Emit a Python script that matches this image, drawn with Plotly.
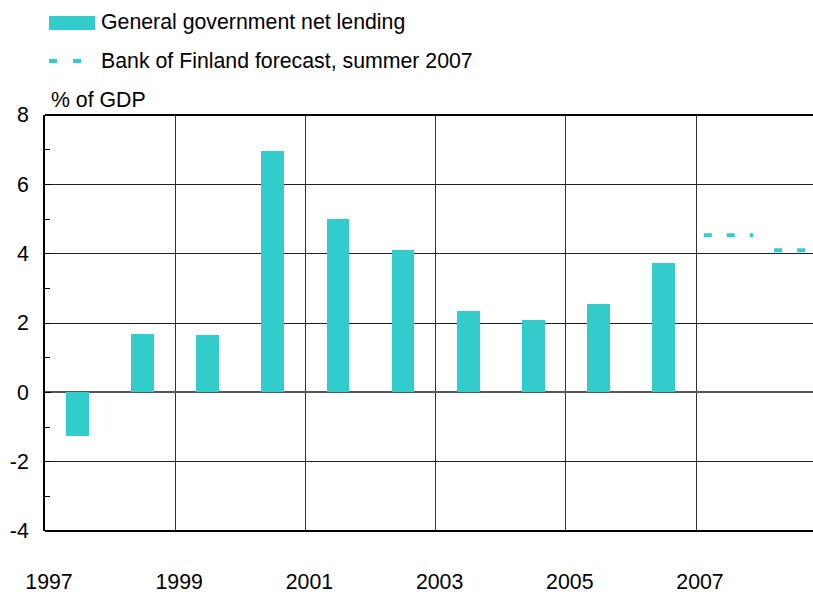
import plotly.graph_objects as go

years = [1997, 1998, 1999, 2000, 2001, 2002, 2003, 2004, 2005, 2006]
net_lending = [-1.25, 1.68, 1.64, 6.95, 5.0, 4.1, 2.36, 2.09, 2.55, 3.73]

fc_years = [2007, 2008]
fc_values = [4.53, 4.1]

tick_years = [1997, 1999, 2001, 2003, 2005, 2007]
y_ticks = [-4, -2, 0, 2, 4, 6, 8]

TEAL = "#33CCCC"
FONT = "Liberation Sans, Arial, sans-serif"
FS = 21.3

W, H = 813, 598
ml, mr, mt, mb = 45, 0, 115, 67
pw, ph = W - ml - mr, H - mt - mb

def px_x(x):
    return (x - ml) / pw

def px_y(y):
    return (H - mb - y) / ph

fig = go.Figure()
fig.add_trace(go.Bar(
    x=[y + 0.5 for y in years], y=net_lending, width=0.35,
    marker=dict(color=TEAL, line=dict(width=0)), showlegend=False,
))
# forecast segments, dash phase lined up like the original
for yr, v, start in zip(fc_years, fc_values, [0.12, 0.2]):
    fig.add_trace(go.Scatter(
        x=[yr + start, yr + 0.88], y=[v, v], mode="lines",
        line=dict(color=TEAL, width=4, dash="8px,15px"), showlegend=False,
    ))

# hand-drawn legend, top left
fig.add_shape(type="rect", xref="paper", yref="paper",
              x0=px_x(49), x1=px_x(95), y0=px_y(30), y1=px_y(16),
              fillcolor=TEAL, line=dict(width=0))
for x0 in (49, 73):
    fig.add_shape(type="line", xref="paper", yref="paper",
                  x0=px_x(x0), x1=px_x(x0 + 8), y0=px_y(61), y1=px_y(61),
                  line=dict(color=TEAL, width=4))
fig.add_annotation(xref="paper", yref="paper", x=px_x(99), y=px_y(22),
                   text="General government net lending", showarrow=False,
                   xanchor="left", yanchor="middle", font=dict(size=FS))
fig.add_annotation(xref="paper", yref="paper", x=px_x(99), y=px_y(61),
                   text="Bank of Finland forecast, summer 2007", showarrow=False,
                   xanchor="left", yanchor="middle", font=dict(size=FS))
fig.add_annotation(xref="paper", yref="paper", x=px_x(49), y=px_y(100),
                   text="% of GDP", showarrow=False,
                   xanchor="left", yanchor="middle", font=dict(size=FS))

fig.update_layout(
    width=W, height=H,
    margin=dict(l=ml, r=mr, t=mt, b=mb, pad=0),
    paper_bgcolor="white", plot_bgcolor="white",
    font=dict(family=FONT, size=FS, color="black"),
    bargap=0,
)
fig.update_xaxes(
    range=[1997, 1997 + pw / 65.1], tickvals=tick_years,
    ticktext=[str(t) for t in tick_years],
    showgrid=True, gridcolor="#333333", gridwidth=1,
    showline=False, zeroline=False, ticks="",
    ticklabelstandoff=36, ticklabelshift=4,
)
fig.update_yaxes(
    range=[-4, 8], tickvals=y_ticks,
    ticktext=[str(t) for t in y_ticks],
    showgrid=True, gridcolor="#222222", gridwidth=1,
    zeroline=True, zerolinecolor="#555555", zerolinewidth=2,
    showline=True, linecolor="black", linewidth=2, mirror=False,
    ticks="inside", ticklen=6, tickcolor="black",
    minor=dict(ticks="inside", dtick=1, ticklen=5, tickcolor="black", showgrid=False),
    ticklabelstandoff=10,
)
# top border line at 8 and bottom at -4
fig.add_shape(type="line", xref="paper", yref="paper", x0=0, x1=1, y0=1, y1=1,
              line=dict(color="black", width=2))
fig.add_shape(type="line", xref="paper", yref="paper", x0=0, x1=1, y0=0, y1=0,
              line=dict(color="black", width=2))

# drop the default 8px body margin so the figure fills the window
fig.write_html("out.html", config={"displayModeBar": False},
               post_script="document.body.style.margin='0';")
